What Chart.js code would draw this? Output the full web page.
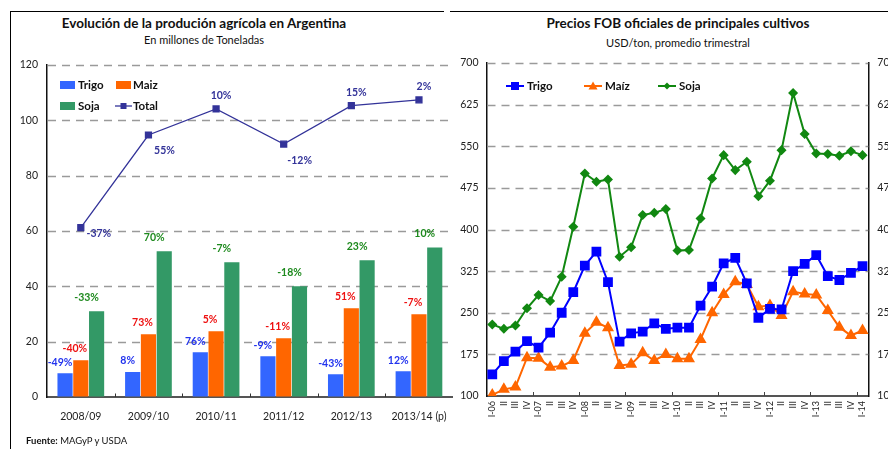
<!DOCTYPE html>
<html>
<head>
<meta charset="utf-8">
<script src="https://cdn.jsdelivr.net/npm/chart.js@4.4.1/dist/chart.umd.min.js"></script>
<style>
  html, body { margin: 0; padding: 0; width: 888px; height: 449px; overflow: hidden; background: #fff; }
  body { position: relative; font-family: Lato, "DejaVu Sans", sans-serif; color: #111; }
  .t { position: absolute; white-space: nowrap; transform: translate(-50%, -50%); }
  .title { font-weight: bold; font-size: 13.5px; }
  .sub { font-size: 11px; }
  .leg { position: absolute; font-weight: bold; font-size: 11.5px; line-height: 14px; white-space: nowrap; }
  .box { position: absolute; width: 15px; height: 8px; }
  canvas { position: absolute; top: 0; }
</style>
</head>
<body>
<div style="position:absolute;left:10px;top:11px;width:434px;border-top:1.5px solid #000"></div>
<div style="position:absolute;left:10px;top:11px;height:440px;border-left:1.5px solid #000"></div>
<div style="position:absolute;left:450px;top:11px;width:438px;border-top:1.5px solid #000"></div>

<div class="t title" style="left:204px;top:23px">Evolución de la produción agrícola en Argentina</div>
<div class="t sub" style="left:204px;top:39px">En millones de Toneladas</div>
<div class="t title" style="left:678px;top:23px">Precios FOB oficiales de principales cultivos</div>
<div class="t sub" style="left:678px;top:42px">USD/ton, promedio trimestral</div>

<canvas id="prod" width="460" height="449" style="left:0;width:460px;height:449px"></canvas>
<canvas id="fob" width="456" height="449" style="left:444px;width:456px;height:449px"></canvas>

<!-- leyenda izquierda -->
<div class="box" style="left:60px;top:81px;background:#3366FF"></div>
<div class="leg" style="left:78px;top:78px">Trigo</div>
<div class="box" style="left:116px;top:81px;background:#FF6600"></div>
<div class="leg" style="left:133px;top:78px">Maiz</div>
<div class="box" style="left:60px;top:102px;background:#339966"></div>
<div class="leg" style="left:78px;top:99px">Soja</div>
<svg style="position:absolute;left:115px;top:101px" width="17" height="10"><line x1="0" y1="5" x2="17" y2="5" stroke="#333399" stroke-width="1.3"/><rect x="5.5" y="2" width="6" height="6" fill="#333399"/></svg>
<div class="leg" style="left:133px;top:99px">Total</div>

<!-- leyenda derecha -->
<svg style="position:absolute;left:506px;top:80px" width="18" height="12"><line x1="0" y1="6" x2="18" y2="6" stroke="#0000FF" stroke-width="2"/><rect x="5" y="2" width="8" height="8" fill="#0000FF"/></svg>
<div class="leg" style="left:527px;top:79px">Trigo</div>
<svg style="position:absolute;left:584px;top:80px" width="18" height="12"><line x1="0" y1="6" x2="18" y2="6" stroke="#FF6600" stroke-width="2"/><polygon points="9,1.5 13.5,9.5 4.5,9.5" fill="#FF6600"/></svg>
<div class="leg" style="left:605px;top:79px">Maíz</div>
<svg style="position:absolute;left:658px;top:80px" width="18" height="12"><line x1="0" y1="6" x2="18" y2="6" stroke="#118811" stroke-width="2"/><polygon points="9,2.5 12.5,6 9,9.5 5.5,6" fill="#118811"/></svg>
<div class="leg" style="left:679px;top:79px">Soja</div>

<div style="position:absolute;left:26px;top:435px;font-size:9.5px;white-space:nowrap"><b>Fuente:</b> MAGyP y USDA</div>

<script>
// ---- producción (millones de toneladas) ----
const seasons = ['2008/09', '2009/10', '2010/11', '2011/12', '2012/13', '2013/14 (p)'];
const trigoProd = [8.6, 9.0, 16.2, 14.7, 8.2, 9.3];
const maizProd = [13.3, 22.7, 23.8, 21.2, 32.1, 29.9];
const sojaProd = [31.0, 52.7, 48.7, 40.0, 49.4, 54.0];
const totalProd = [61.2, 94.7, 104.1, 91.4, 105.3, 107.4];
const trigoChg = ['-49%', '8%', '76%', '-9%', '-43%', '12%'];
const maizChg = ['-40%', '73%', '5%', '-11%', '51%', '-7%'];
const sojaChg = ['-33%', '70%', '-7%', '-18%', '23%', '10%'];
const totalChg = ['-37%', '55%', '10%', '-12%', '15%', '2%'];
const prodTicks = [0, 20, 40, 60, 80, 100, 120];

// ---- precios FOB (USD/ton, trimestral) ----
const quarters = [
  'I-06', 'II', 'III', 'IV', 'I-07', 'II', 'III', 'IV', 'I-08', 'II', 'III', 'IV',
  'I-09', 'II', 'III', 'IV', 'I-10', 'II', 'III', 'IV', 'I-11', 'II', 'III', 'IV',
  'I-12', 'II', 'III', 'IV', 'I-13', 'II', 'III', 'IV', 'I-14'
];
const trigoPrice = [139, 163, 180, 199, 187, 214, 250, 287, 335, 360, 305, 198, 213, 216, 231, 221,
  223, 223, 263, 297, 339, 349, 303, 241, 257, 256, 325, 338, 354, 316, 309, 322, 334];
const maizPrice = [102, 112, 116, 169, 168, 152, 154, 164, 213, 233, 223, 155, 157, 178, 164, 175,
  167, 167, 202, 250, 283, 306, 301, 261, 263, 245, 288, 284, 282, 254, 224, 209, 218];
const sojaPrice = [229, 221, 227, 258, 282, 271, 315, 405, 501, 486, 490, 351, 368, 426, 430, 437,
  362, 363, 420, 492, 534, 507, 522, 460, 488, 543, 646, 572, 537, 536, 533, 541, 534];

const FONT = 'Lato, "DejaVu Sans", sans-serif';
Chart.defaults.font.family = FONT;
Chart.defaults.color = '#222';

// líneas de grilla punteadas (estilo Excel)
const dashedGrid = {
  id: 'dashedGrid',
  beforeDatasetsDraw(chart, args, opts) {
    const y = chart.scales.y;
    const area = chart.chartArea;
    const ctx = chart.ctx;
    ctx.save();
    ctx.strokeStyle = '#9a9a9a';
    ctx.lineWidth = 1.5;
    ctx.setLineDash([8, 6]);
    y.ticks.forEach(t => {
      if (t.value === y.min) return;
      const py = Math.round(y.getPixelForValue(t.value)) + 0.5;
      ctx.beginPath();
      ctx.moveTo(area.left + 1, py);
      ctx.lineTo(area.right, py);
      ctx.stroke();
    });
    ctx.restore();
  }
};

// marcas cortas hacia adentro sobre el eje x
const innerTicks = {
  id: 'innerTicks',
  afterDatasetsDraw(chart, args, opts) {
    const x = chart.scales.x;
    const n = chart.data.labels.length;
    const half = (x.getPixelForValue(1) - x.getPixelForValue(0)) / 2;
    const ctx = chart.ctx;
    ctx.save();
    ctx.strokeStyle = opts.color;
    ctx.lineWidth = 1;
    for (let i = opts.every; i < n; i += opts.every) {
      const px = Math.round(x.getPixelForValue(i) - half) + 0.5;
      ctx.beginPath();
      ctx.moveTo(px, x.top);
      ctx.lineTo(px, x.top - opts.length);
      ctx.stroke();
    }
    ctx.restore();
  }
};

// etiquetas de variación %
const chgLabels = {
  id: 'chgLabels',
  afterDatasetsDraw(chart, args, opts) {
    const ctx = chart.ctx;
    ctx.save();
    ctx.font = 'bold 10.5px ' + FONT;
    ctx.textAlign = 'center';
    ctx.textBaseline = 'middle';
    opts.sets.forEach(set => {
      const meta = chart.getDatasetMeta(set.index);
      meta.data.forEach((el, i) => {
        const off = set.place ? set.offsets[set.place[i]] : [set.dx, set.dy];
        ctx.fillStyle = set.color;
        ctx.fillText(set.texts[i], el.x + off[0], el.y + off[1]);
      });
    });
    ctx.restore();
  }
};

const noGrid = { display: true, drawOnChartArea: false, drawTicks: false, color: 'transparent' };

new Chart(document.getElementById('prod'), {
  type: 'bar',
  data: {
    labels: seasons,
    datasets: [
      { label: 'Trigo', data: trigoProd, backgroundColor: '#3366FF', order: 2 },
      { label: 'Maiz', data: maizProd, backgroundColor: '#FF6600', order: 2 },
      { label: 'Soja', data: sojaProd, backgroundColor: '#339966', order: 2 },
      {
        type: 'line', label: 'Total', data: totalProd, order: 1,
        borderColor: '#333399', backgroundColor: '#333399', borderWidth: 1.3,
        pointStyle: 'rect', pointRadius: 4.2, pointHoverRadius: 4.2
      }
    ]
  },
  options: {
    responsive: false,
    animation: false,
    events: [],
    layout: { padding: { top: 65, right: 6, bottom: 0, left: 0 } },
    datasets: { bar: { categoryPercentage: 0.7, barPercentage: 0.96 } },
    plugins: {
      legend: { display: false },
      tooltip: { enabled: false },
      innerTicks: { every: 1, length: 3.5, color: '#333' },
      chgLabels: {
        sets: [
          { index: 0, texts: trigoChg, color: '#2233EE', dx: -5, dy: -11 },
          { index: 1, texts: maizChg, color: '#EE1111', dx: -6, dy: -12 },
          { index: 2, texts: sojaChg, color: '#1E8A1E', dx: -10, dy: -14 },
          {
            index: 3, texts: totalChg, color: '#333399',
            place: ['right', 'below', 'above', 'below', 'above', 'above'],
            offsets: { right: [18, 6], below: [16, 16], above: [5, -13] }
          }
        ]
      }
    },
    scales: {
      x: {
        grid: noGrid,
        border: { display: true, color: '#555', width: 2 },
        ticks: { padding: 13, font: { size: 10.5 }, color: '#222' },
        afterFit: s => { s.height = 52; }
      },
      y: {
        min: 0, max: 120,
        afterBuildTicks: s => { s.ticks = prodTicks.map(v => ({ value: v })); },
        grid: noGrid,
        border: { display: true, color: '#111', width: 1.5 },
        ticks: { padding: 9, font: { size: 10.5 }, color: '#222' },
        afterFit: s => { s.width = 47; }
      }
    }
  },
  plugins: [dashedGrid, innerTicks, chgLabels]
});

new Chart(document.getElementById('fob'), {
  type: 'line',
  data: {
    labels: quarters,
    datasets: [
      {
        label: 'Trigo', data: trigoPrice, borderColor: '#0000FF', backgroundColor: '#0000FF',
        borderWidth: 2, pointStyle: 'rect', pointRadius: 5.5, pointHoverRadius: 5.5
      },
      {
        label: 'Maíz', data: maizPrice, borderColor: '#FF6600', backgroundColor: '#FF6600',
        borderWidth: 2, pointStyle: 'triangle', pointRadius: 5, pointHoverRadius: 5
      },
      {
        label: 'Soja', data: sojaPrice, borderColor: '#118811', backgroundColor: '#118811',
        borderWidth: 2, pointStyle: 'rectRot', pointRadius: 3.6, pointHoverRadius: 3.6
      }
    ]
  },
  options: {
    responsive: false,
    animation: false,
    events: [],
    layout: { padding: { top: 63, right: 0, bottom: 0, left: 0 } },
    plugins: {
      legend: { display: false },
      tooltip: { enabled: false },
      innerTicks: { every: 4, length: 4, color: '#444' }
    },
    scales: {
      x: {
        offset: true,
        grid: noGrid,
        border: { display: true, color: '#555', width: 2 },
        ticks: { autoSkip: false, minRotation: 90, maxRotation: 90, padding: 5, font: { size: 9 }, color: '#222' },
        afterFit: s => { s.height = 53; }
      },
      y: {
        min: 100, max: 700,
        ticks: { stepSize: 75, padding: 8, font: { size: 10.5 }, color: '#222' },
        grid: noGrid,
        border: { display: true, color: '#111', width: 1.5 },
        afterFit: s => { s.width = 42.5; }
      },
      y1: {
        position: 'right',
        min: 100, max: 700,
        ticks: { stepSize: 75, padding: 9, font: { size: 10.5 }, color: '#222' },
        grid: { display: false, drawTicks: false },
        border: { display: true, color: '#111', width: 1.5 },
        afterFit: s => { s.width = 31.7; }
      }
    }
  },
  plugins: [dashedGrid, innerTicks]
});
</script>
</body>
</html>
